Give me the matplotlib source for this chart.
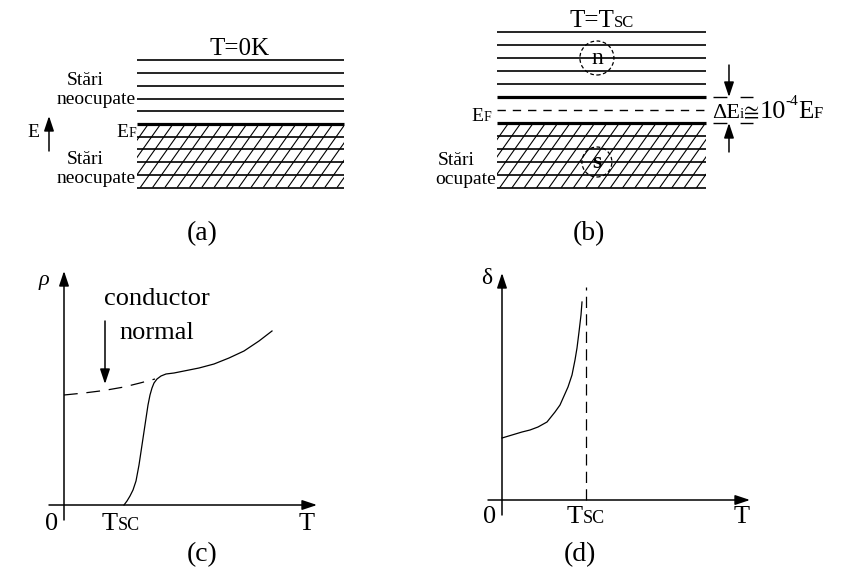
import numpy as np
import matplotlib
matplotlib.use('Agg')
import matplotlib.pyplot as plt
from matplotlib.patches import Circle
from matplotlib.transforms import IdentityTransform
from matplotlib.collections import LineCollection

plt.rcParams['font.family'] = ['Liberation Serif', 'STIXGeneral', 'DejaVu Serif', 'DejaVu Sans']

# ---------------- data ----------------
# (a) T = 0 K : energy levels (units of level spacing), E_F = 0
a_empty_levels = [1, 2, 3, 4, 5]
a_filled_levels = [-1, -2, -3, -4, -5]
a_fermi = 0
# (b) T = Tsc : gap edges at +-1, E_F = 0
b_empty_levels = [2, 3, 4, 5, 6]
b_filled_levels = [-2, -3, -4, -5, -6]
b_gap_edges = [1, -1]
b_fermi = 0
b_pair_labels = ['n', 's']
b_pair_levels = [4, -4]
# (c) resistivity vs temperature (arbitrary units)
c_T = [60, 63, 66, 69, 72, 75, 78, 81, 84, 86, 88, 90, 93, 97, 102, 110, 120,
       135, 150, 165, 180, 195, 208]
c_rho = [0, 4, 9, 15, 24, 40, 60, 80, 100, 110, 117, 122, 126, 129, 131, 132,
         134, 137, 141, 147, 154, 164, 174]
c_T_normal = [0, 20, 40, 60, 76, 91]
c_rho_normal = [110, 112, 114.5, 118, 122, 126]
c_Tsc = 60
# (d) penetration depth vs temperature (arbitrary units)
d_T = [0, 10, 20, 28, 36, 45, 53, 58, 62, 66, 70, 73, 75, 77, 79, 80]
d_delta = [62, 65, 68, 70, 73, 78, 88, 95, 104, 113, 125, 140, 152, 168, 185, 198]
d_Tsc = 84
d_asym_top = 213

W, H = 850, 570
fig = plt.figure(figsize=(W / 100, H / 100), dpi=100)


def px_axes(x0, x1, y0, y1, xlim, ylim):
    ax = fig.add_axes([x0 / W, 1 - y1 / H, (x1 - x0) / W, (y1 - y0) / H])
    ax.set_xlim(*xlim)
    ax.set_ylim(*ylim)
    ax.set_axis_off()
    return ax


THIN, THICK, HLW = 1.2, 2.3, 0.8


def hatch(ax, ybot, ytop, spacing, run):
    x0s = np.arange(-0.4, 1.05, spacing)
    segs = [[(x, ybot), (x + run * (ytop - ybot), ytop)] for x in x0s]
    lc = LineCollection(segs, colors='k', linewidths=HLW)
    ax.add_collection(lc)


# ---- panel (a)
ax_a = px_axes(137, 344, 60.5, 187.5, (0, 1), (-5, 5))
for y in a_empty_levels + a_filled_levels:
    ax_a.plot([0, 1], [y, y], color='k', lw=THIN, clip_on=False, solid_capstyle='butt')
ax_a.plot([0, 1], [a_fermi, a_fermi], color='k', lw=THICK, clip_on=False, solid_capstyle='butt')
hatch(ax_a, min(a_filled_levels), a_fermi, 12.3 / 207, 9.0 / 207)

# ---- panel (b)
ax_b = px_axes(497, 706, 32, 188, (0, 1), (-6, 6))
for y in b_empty_levels + b_filled_levels:
    ax_b.plot([0, 1], [y, y], color='k', lw=THIN, clip_on=False, solid_capstyle='butt')
for y in b_gap_edges:
    ax_b.plot([0, 1], [y, y], color='k', lw=THICK, clip_on=False, solid_capstyle='butt')
ax_b.plot([0, 1], [b_fermi, b_fermi], color='k', lw=1.0, dashes=(6, 5))
hatch(ax_b, min(b_filled_levels), min(b_gap_edges), 12.3 / 209, 9.0 / 209 * 13 / 12.7)
for lab, lev, rad in zip(b_pair_labels, b_pair_levels, [17, 15]):
    cx, cy = ax_b.transData.transform((0.478, lev))
    fig.add_artist(Circle((cx, cy), rad, transform=IdentityTransform(), fill=False,
                          ec='k', lw=0.9, ls=(0, (3, 2))))
    ax_b.text(0.478, lev, lab, ha='center', va='center', fontsize=17,
              fontweight='bold' if lab == 's' else 'normal')
# Delta E_i dimension marks
arrow_kw = dict(arrowstyle='-|>,head_length=0.9,head_width=0.3', lw=1.1, color='k',
                shrinkA=0, shrinkB=0, mutation_scale=10)
ax_b.annotate('', xy=(1.11, b_gap_edges[0]), xytext=(1.11, 3.46), arrowprops=arrow_kw,
              annotation_clip=False)
ax_b.annotate('', xy=(1.11, b_gap_edges[1]), xytext=(1.11, -3.23), arrowprops=arrow_kw,
              annotation_clip=False)
for y in b_gap_edges:
    ax_b.plot([1.033, 1.225], [y, y], color='k', lw=1.0, dashes=(10, 9.5), clip_on=False)

# ---- panel (c)
ax_c = px_axes(49, 317, 271, 520, (-15, 253), (-15, 234))
ax_c.annotate('', xy=(253, 0), xytext=(-15, 0), arrowprops=arrow_kw, annotation_clip=False)
ax_c.annotate('', xy=(0, 234), xytext=(0, -15), arrowprops=arrow_kw, annotation_clip=False)
ax_c.plot(c_T, c_rho, color='k', lw=0.9)
ax_c.plot(c_T_normal, c_rho_normal, color='k', lw=0.9, dashes=(11, 7))

# ---- panel (d)
ax_d = px_axes(488, 750, 273, 515, (-14, 248), (-15, 227))
ax_d.annotate('', xy=(248, 0), xytext=(-14, 0), arrowprops=arrow_kw, annotation_clip=False)
ax_d.annotate('', xy=(0, 227), xytext=(0, -15), arrowprops=arrow_kw, annotation_clip=False)
ax_d.plot(d_T, d_delta, color='k', lw=0.9)
ax_d.plot([d_Tsc, d_Tsc], [0, d_asym_top], color='k', lw=0.9, dashes=(9, 5))

# ---- overlay for labels (pixel coordinates, y downwards)
lay = fig.add_axes([0, 0, 1, 1])
lay.set_xlim(0, W)
lay.set_ylim(H, 0)
lay.set_axis_off()
R = fig.canvas.get_renderer()


def chain(parts, x, y, ha='left'):
    """parts: (text, fontsize, raise_px); y is baseline. Returns centre x."""
    arts = []
    widths = []
    for s, fs, dy in parts:
        t = lay.text(0, y - dy, s, fontsize=fs, ha='left', va='baseline')
        arts.append(t)
        widths.append(t.get_window_extent(renderer=R).width)
    total = sum(widths)
    start = {'left': x, 'right': x - total, 'center': x - total / 2}[ha]
    cur = start
    for t, w, (s, fs, dy) in zip(arts, widths, parts):
        t.set_position((cur, y - dy))
        cur += w
    return start + total / 2


LBL = 14
# (a)
chain([('T=0K', 18, 0)], 240, 55, 'center')
c1 = chain([('neocupate', LBL, 0)], 136, 104, 'right')
chain([('Stări', LBL, 0)], (c1 + 73) / 2, 85, 'center')
chain([('E', LBL, 0)], 33, 137, 'center')
lay.annotate('', xy=(49, 116), xytext=(49, 151), arrowprops=arrow_kw)
chain([('E', LBL, 0), ('F', 10, 0)], 136, 137, 'right')
c2 = chain([('neocupate', LBL, 0)], 136, 183, 'right')
chain([('Stări', LBL, 0)], (c2 + 73) / 2, 164, 'center')
chain([('(a)', 20, 0)], 202, 240, 'center')
# (b)
chain([('T=T', 18, 0), ('SC', 12, 0)], 602, 27, 'center')
chain([('E', LBL, 0), ('F', 10, 0)], 491, 121, 'right')
c3 = chain([('ocupate', LBL, 0)], 496, 184, 'right')
chain([('Stări', LBL, 0)], (c3 + 446) / 2, 165, 'center')
chain([('ΔE', 16, 0), ('i', 11, 0), ('≅', 16, 0), ('10', 19, 0), ('-4', 11, 13),
       ('E', 18, 0), ('F', 12, 0)], 712, 118, 'left')
chain([('(b)', 20, 0)], 589, 240, 'center')
# (c)
lay.text(44, 280, 'ρ', fontsize=16, style='italic', ha='center', va='center')
chain([('conductor', 19, 0)], 157, 305, 'center')
chain([('normal', 19, 0)], 157, 339, 'center')
lay.annotate('', xy=(105, 384), xytext=(105, 321), arrowprops=arrow_kw)
chain([('0', 19, 0)], 52, 530, 'center')
chain([('T', 19, 0), ('SC', 13, 0)], 121, 530, 'center')
chain([('T', 19, 0)], 307, 530, 'center')
chain([('(c)', 20, 0)], 202, 561, 'center')
# (d)
lay.text(487, 278, 'δ', fontsize=17, ha='center', va='center')
chain([('0', 19, 0)], 490, 523, 'center')
chain([('T', 19, 0), ('SC', 13, 0)], 586, 523, 'center')
chain([('T', 19, 0)], 742, 523, 'center')
chain([('(d)', 20, 0)], 580, 561, 'center')

fig.savefig('out.png', dpi=100)
